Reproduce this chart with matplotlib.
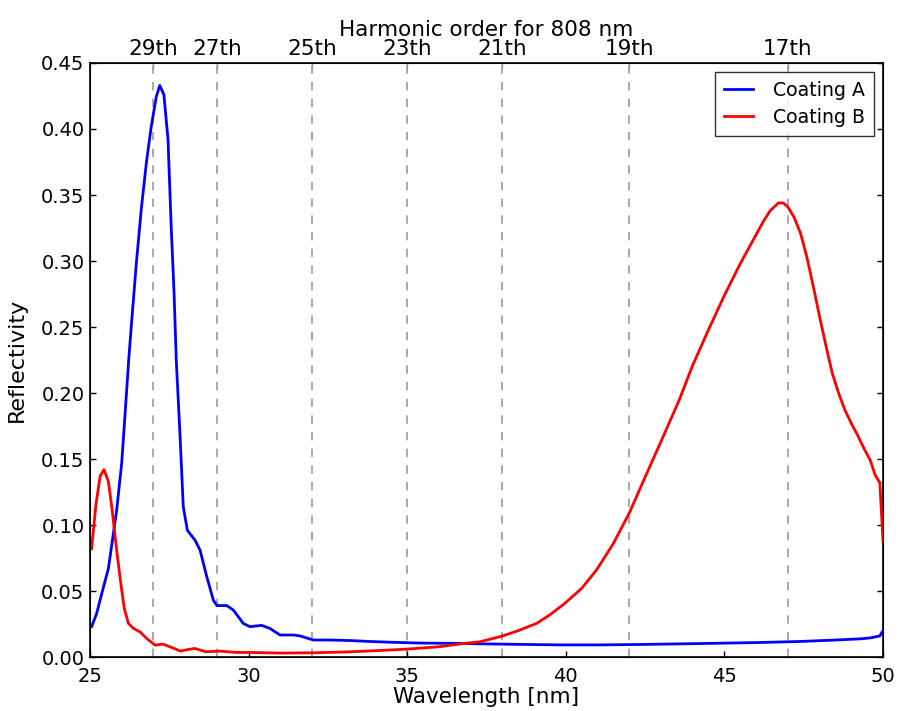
import matplotlib
matplotlib.use("Agg")
import matplotlib.pyplot as plt

# Reflectivity spectra of two multilayer coatings
wl_a = [25.05, 25.21, 25.37, 25.58, 25.68, 25.84, 26.0, 26.1, 26.22, 26.3,
        26.46, 26.62, 26.78, 26.93, 27.09, 27.2, 27.33, 27.46, 27.56, 27.65,
        27.72, 27.84, 27.94, 28.07, 28.31, 28.47, 28.68, 28.89, 29.0, 29.31,
        29.52, 29.83, 30.04, 30.41, 30.67, 30.99, 31.41, 31.62, 32.04, 32.57,
        33.2, 33.8, 34.5, 35.4, 36.3, 37.9, 39.8, 41.1, 42.3, 44.2, 46.1,
        47.4, 48.6, 49.3, 49.6, 49.8, 49.9, 50.0]
refl_a = [0.023, 0.033, 0.048, 0.067, 0.084, 0.111, 0.147, 0.182, 0.225,
          0.250, 0.298, 0.340, 0.375, 0.4017, 0.4245, 0.433, 0.426, 0.392,
          0.326, 0.276, 0.225, 0.167, 0.114, 0.096, 0.0886, 0.081, 0.061,
          0.043, 0.039, 0.039, 0.0356, 0.0255, 0.023, 0.024, 0.0217, 0.0167,
          0.0167, 0.016, 0.0129, 0.0129, 0.0125, 0.0118, 0.0112, 0.0106,
          0.0104, 0.0098, 0.0092, 0.0092, 0.0095, 0.0102, 0.011, 0.0118,
          0.013, 0.0138, 0.0145, 0.0155, 0.016, 0.020]

wl_b = [25.05, 25.19, 25.32, 25.44, 25.58, 25.7, 25.84, 25.97, 26.08, 26.21,
        26.37, 26.58, 26.79, 27.05, 27.3, 27.55, 27.85, 28.05, 28.3, 28.65,
        29.1, 29.6, 30.15, 31.0, 32.0, 33.0, 34.0, 35.0, 36.0, 36.7, 37.3,
        38.0, 38.5, 39.08, 39.5, 39.97, 40.5, 40.97, 41.5, 42.0, 42.55,
        43.07, 43.58, 44.0, 44.5, 45.0, 45.5, 46.0, 46.23, 46.44,
        46.7, 46.85, 47.0, 47.2, 47.4, 47.6, 47.8, 48.0, 48.2, 48.4, 48.6,
        48.8, 49.0, 49.2, 49.4, 49.6, 49.75, 49.9, 50.0]
refl_b = [0.082, 0.116, 0.137, 0.142, 0.133, 0.111, 0.081, 0.056, 0.037,
          0.0255, 0.0217, 0.019, 0.014, 0.009, 0.0098, 0.0075, 0.0045,
          0.0055, 0.0065, 0.004, 0.0045, 0.0035, 0.0034, 0.003, 0.0032,
          0.0038, 0.0048, 0.006, 0.0078, 0.0100, 0.0116, 0.0159, 0.020,
          0.0255, 0.032, 0.0407, 0.052, 0.066, 0.086, 0.109, 0.139, 0.167,
          0.195, 0.221, 0.248, 0.274, 0.298, 0.320, 0.330, 0.338,
          0.344, 0.344, 0.341, 0.333, 0.321, 0.303, 0.281, 0.258, 0.236,
          0.215, 0.200, 0.187, 0.177, 0.168, 0.158, 0.149, 0.138, 0.132,
          0.088]

# Harmonic positions for the 808 nm driver
harm_pos = [27, 29, 32, 35, 38, 42, 47]
harm_labels = ['29th', '27th', '25th', '23th', '21th', '19th', '17th']

TICK_FS = 14
LABEL_FS = 15.5

fig = plt.figure(figsize=(8.99, 7.11), dpi=100)
ax = fig.add_axes([0.1001, 0.0759, 0.8821, 0.8355])

for x in harm_pos:
    ax.axvline(x, color='#999999', linestyle=(0, (5, 5)), linewidth=1.2, zorder=1)

ax.plot(wl_a, refl_a, color='blue', linewidth=2, label='Coating A', zorder=3)
ax.plot(wl_b, refl_b, color='red', linewidth=2, label='Coating B', zorder=3)

ax.set_xlim(25, 50)
ax.set_ylim(0, 0.45)
ax.set_xticks([25, 30, 35, 40, 45, 50])
ax.set_yticks([0.0, 0.05, 0.1, 0.15, 0.2, 0.25, 0.3, 0.35, 0.4, 0.45])
ax.set_yticklabels([f'{v:.2f}' for v in ax.get_yticks()])
ax.tick_params(axis='both', direction='in', length=4.5, width=1,
               labelsize=TICK_FS, top=False, right=True)
ax.tick_params(axis='x', pad=7)
ax.tick_params(axis='y', pad=4)
ax.set_xlabel('Wavelength [nm]', fontsize=LABEL_FS, labelpad=1)
ax.set_ylabel('Reflectivity', fontsize=16, labelpad=10)
for s in ax.spines.values():
    s.set_linewidth(1.2)

top = ax.twiny()
top.set_xlim(ax.get_xlim())
top.set_xticks(harm_pos)
top.set_xticklabels(harm_labels)
top.tick_params(axis='x', direction='in', length=4, width=1,
                color='#999999', labelsize=LABEL_FS, pad=3)
top.set_xlabel('Harmonic order for 808 nm', fontsize=LABEL_FS, labelpad=2)

leg = ax.legend(loc='upper right', fontsize=13.6, frameon=True, fancybox=False,
                borderaxespad=0.5, handlelength=1.55, handletextpad=1.05,
                borderpad=0.45, labelspacing=0.43)
leg.get_frame().set_edgecolor('black')
leg.get_frame().set_linewidth(1.0)

fig.savefig('out.png', dpi=100, facecolor='white')
